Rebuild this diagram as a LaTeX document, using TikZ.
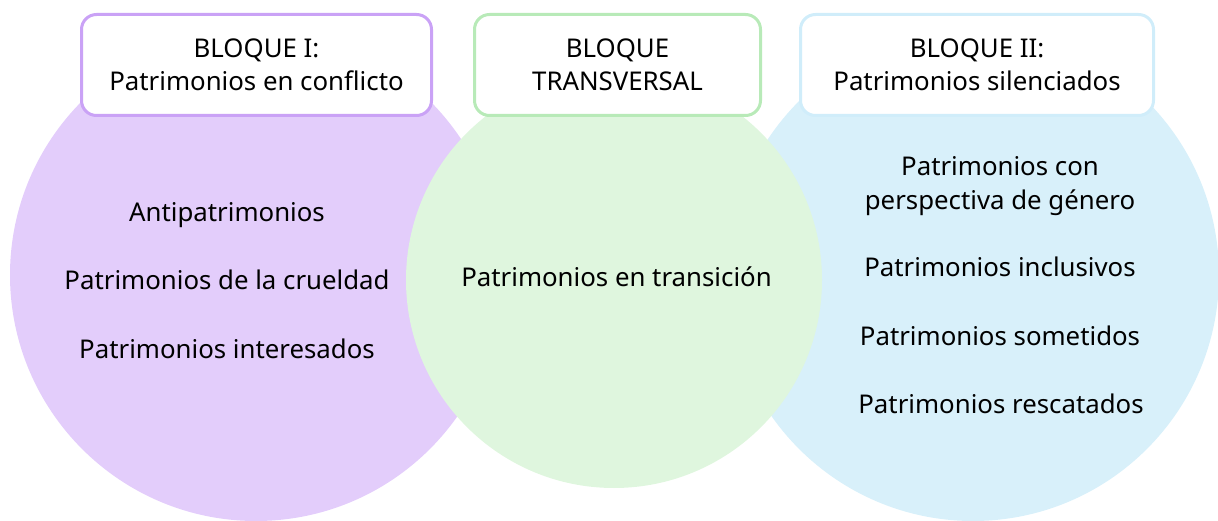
\documentclass[tikz,border=0pt]{standalone}
\usepackage{fontspec}
\setmainfont{Noto Sans}
\definecolor{mypurple}{RGB}{227,205,251}
\definecolor{mypurpleline}{RGB}{202,162,246}
\definecolor{mygreen}{RGB}{223,246,222}
\definecolor{mygreenline}{RGB}{184,234,184}
\definecolor{myblue}{RGB}{216,240,250}
\definecolor{myblueline}{RGB}{208,237,250}

\begin{document}
\begin{tikzpicture}[x=1pt,y=-1pt,
  bloque/.style={draw,fill=white,line width=3pt,rounded corners=15pt,minimum width=350pt,minimum height=101pt,align=center,font=\fontsize{25.8}{33}\selectfont},
  item/.style={anchor=base,align=center,font=\fontsize{25.8}{34}\selectfont}]
\useasboundingbox (0,0) rectangle (1218,521);

\fill[mypurple] (256,275) circle[radius=246pt];
\fill[myblue] (973,275) circle[radius=246pt];
\fill[mygreen] (614,280) circle[radius=208pt];

\node[bloque,draw=mypurpleline] (bloqueI) at (256.5,65) {BLOQUE I:\\Patrimonios en conflicto};
\node[bloque,draw=mygreenline,minimum width=286pt] (bloqueT) at (617.5,65) {BLOQUE\\TRANSVERSAL};
\node[bloque,draw=myblueline,minimum width=353pt] (bloqueII) at (977,65) {BLOQUE II:\\Patrimonios silenciados};

\node[item] (anti) at (227,222) {Antipatrimonios};
\node[item] (cruel) at (227,290) {Patrimonios de la crueldad};
\node[item] (inter) at (227,358) {Patrimonios interesados};

\node[item] (trans) at (616.5,287) {Patrimonios en transición};

\node[item,anchor=center] (genero) at (1000,186) {Patrimonios con\\perspectiva de género};
\node[item] (inclu) at (1000,277) {Patrimonios inclusivos};
\node[item] (somet) at (1000,345) {Patrimonios sometidos};
\node[item] (resca) at (1001,413) {Patrimonios rescatados};
\end{tikzpicture}
\end{document}
